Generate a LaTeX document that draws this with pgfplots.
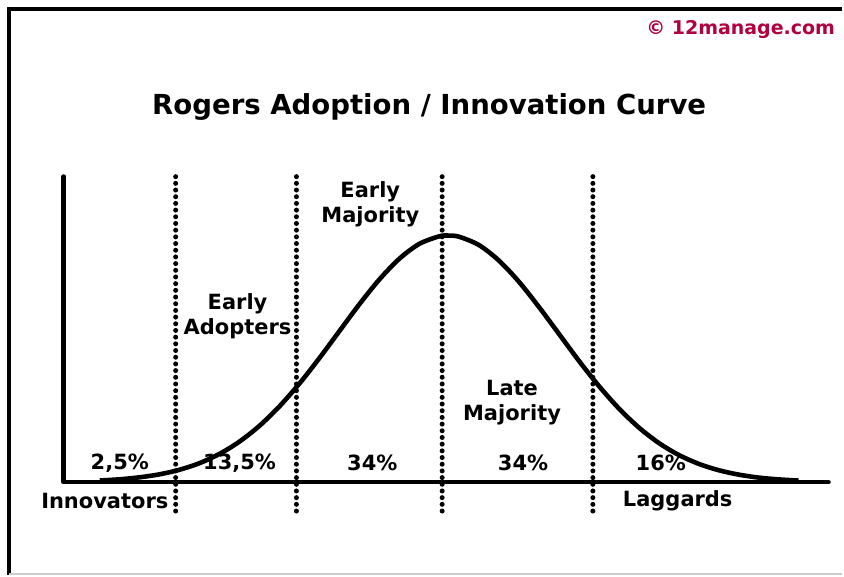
\documentclass[border=0pt]{standalone}
\usepackage{fontspec}
\setmainfont{DejaVu Sans}
\usepackage{pgfplots}
\pgfplotsset{compat=1.18}
\definecolor{brandred}{RGB}{176,0,64}
\begin{document}
\begin{tikzpicture}
\begin{axis}[
  scale only axis, width=422pt, height=288pt,
  xmin=0, xmax=844, ymin=-93, ymax=483,
  hide axis, clip=false,
]
% frame of the picture
\path (axis cs:0,-93) rectangle (axis cs:844,483);
\draw[line width=1.6pt] (axis cs:9,-93) -- (axis cs:9,474) -- (axis cs:844,474);
\draw[line width=0.8pt, gray!40] (axis cs:9,-92) -- (axis cs:844,-92);

% axes of the chart
\addplot[line width=2.4pt, line cap=round, line join=round] coordinates {(64,306) (64,0) (830,0)};

% dotted category boundaries
\foreach \xx in {176,297,443,594} {
  \edef\tmp{\noexpand\addplot[line width=2.5pt, line cap=round, dash pattern=on 0pt off 3.35pt] coordinates {(\xx,-29) (\xx,308)};}
  \tmp
}

% adoption curve (pixel-like units)
\addplot[line width=2.3pt, smooth, line join=round] table {
x h
100 1.6
120 2.8
140 4.8
160 7.8
180 12.4
200 19.0
220 28.3
240 40.6
260 56.4
280 75.9
300 98.7
320 124.2
340 151.2
360 178.1
380 202.9
400 223.7
420 238.6
440 246.2
449 247.0
460 245.8
480 237.4
500 221.8
520 200.6
540 175.4
560 148.5
580 121.5
600 96.3
620 73.8
640 54.7
660 39.2
680 27.2
700 18.3
720 11.9
740 7.5
760 4.5
780 2.7
800 1.5
};

% texts
\node[font=\bfseries\fontsize{9.5}{10}\selectfont, text=brandred] at (axis cs:742,453) {© 12manage.com};
\node[font=\bfseries\fontsize{13.8}{15}\selectfont] at (axis cs:430,376) {Rogers Adoption / Innovation Curve};
\node[font=\bfseries\fontsize{10.5}{12.5}\selectfont, align=center] at (axis cs:371,278) {Early\\Majority};
\node[font=\bfseries\fontsize{10.5}{12.5}\selectfont, align=center] at (axis cs:238,166) {Early\\Adopters};
\node[font=\bfseries\fontsize{10.5}{12.5}\selectfont, align=center] at (axis cs:513,80) {Late\\Majority};
\node[font=\bfseries\fontsize{10.5}{11}\selectfont] at (axis cs:120,19) {2,5\%};
\node[font=\bfseries\fontsize{10.5}{11}\selectfont] at (axis cs:240,19) {13,5\%};
\node[font=\bfseries\fontsize{10.5}{11}\selectfont] at (axis cs:373,19) {34\%};
\node[font=\bfseries\fontsize{10.5}{11}\selectfont] at (axis cs:524,19) {34\%};
\node[font=\bfseries\fontsize{10.5}{11}\selectfont] at (axis cs:662,19) {16\%};
\node[font=\bfseries\fontsize{10.5}{11}\selectfont] at (axis cs:105,-19) {Innovators};
\node[font=\bfseries\fontsize{10.5}{11}\selectfont] at (axis cs:679,-19) {Laggards};
\end{axis}
\end{tikzpicture}
\end{document}
